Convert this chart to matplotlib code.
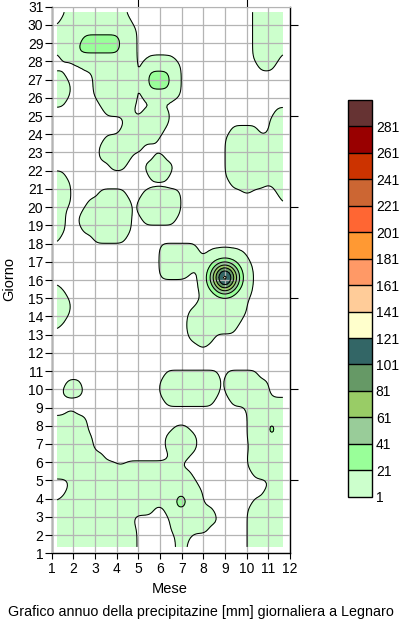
import numpy as np
import matplotlib
matplotlib.use('Agg')
import matplotlib.pyplot as plt

plt.rcParams['font.family'] = ['Liberation Sans', 'DejaVu Sans']

# ---------------- data ----------------
month_ticks = list(range(1, 13))
day_ticks = list(range(1, 32))
levels = [1, 21, 41, 61, 81, 101, 121, 141, 161, 181, 201, 221, 241, 261, 281, 301]
level_labels = [1, 21, 41, 61, 81, 101, 121, 141, 161, 181, 201, 221, 241, 261, 281]
level_colors = ['#ccffcc', '#99ff99', '#99cc99', '#99cc66', '#669966', '#336666',
                '#ffffcc', '#ffcc99', '#ff9966', '#ff9933', '#ff6633', '#cc6633',
                '#cc3300', '#990000', '#663333']

# gridded field nodes (month, day)
x_nodes = np.linspace(1.25, 11.67, 42)
y_nodes = np.linspace(1.35, 30.70, 60)

# precipitation class per node (mm)
code_values = {'.': 0.0, '-': 0.0, ',': 1.1, 'a': 2.0, 'b': 40.0, 'B': 60.0, 'C': 80.0}

# row index (0 = day 1.35 ... 59 = day 30.7) -> list of (code, first col, last col)
rain_segments = {
    59: [('a', 2, 12), ('a', 36, 41)],
    58: [('a', 1, 13), ('a', 36, 41)],
    57: [('a', 0, 14), ('a', 36, 41)],
    56: [('a', 0, 14), ('b', 5, 11), ('a', 36, 41)],
    55: [('a', 0, 14), ('b', 4, 11), ('a', 36, 41)],
    54: [('a', 1, 14), (',', 17, 21), ('a', 36, 40)],
    53: [('a', 5, 14), ('-', 15, 15), ('a', 16, 22), ('a', 37, 39)],
    52: [('a', 0, 1), ('a', 7, 14), ('-', 15, 15), ('a', 16, 22), ('b', 17, 20)],
    51: [('a', 0, 2), ('a', 7, 14), ('-', 15, 15), ('a', 16, 22), ('b', 17, 20)],
    50: [('a', 0, 2), ('a', 7, 14), ('-', 15, 15), ('a', 16, 22)],
    49: [('a', 0, 1), ('a', 8, 14)],
    48: [('a', 9, 13), ('a', 16, 20), ('a', 40, 41)],
    47: [('a', 13, 20), ('a', 39, 41)],
    46: [('a', 12, 19), ('a', 32, 36), ('a', 39, 41)],
    45: [('a', 9, 18), ('a', 31, 41)],
    44: [('a', 8, 15), ('a', 31, 41)],
    43: [('a', 8, 13), ('a', 18, 19), ('a', 31, 41)],
    42: [('a', 10, 12), ('a', 16, 21), ('a', 31, 41)],
    41: [('a', 0, 1), ('a', 17, 20), ('a', 31, 41)],
    40: [('a', 0, 2), ('a', 32, 41), (',', 38, 39)],
    39: [('a', 0, 2), ('a', 8, 12), ('a', 16, 22), (',', 34, 35), (',', 40, 40), ('a', 41, 41)],
    38: [('a', 0, 2), ('a', 6, 13), ('a', 15, 22), (',', 41, 41)],
    37: [('a', 0, 1), ('a', 5, 13), ('a', 15, 22)],
    36: [('a', 0, 1), ('a', 4, 13), ('a', 16, 21), ('a', 41, 41)],
    35: [('a', 0, 1), ('a', 5, 13)],
    34: [('a', 0, 0), ('a', 7, 12)],
    33: [('a', 19, 25)],
    32: [('a', 19, 26), (',', 28, 34)],
    31: [('a', 19, 34), (',', 35, 35)],
    30: [('a', 19, 23), (',', 24, 24), ('a', 27, 34), (',', 35, 35)],
    29: [(',', 0, 0), ('a', 27, 34), (',', 35, 35)],
    28: [('a', 0, 1), ('a', 27, 34), (',', 35, 35)],
    27: [('a', 0, 2), ('a', 26, 34)],
    26: [('a', 0, 2), (',', 24, 24), ('a', 25, 34)],
    25: [('a', 0, 1), ('a', 24, 33)],
    24: [(',', 0, 0), ('a', 24, 32)],
    23: [(',', 24, 24), ('a', 25, 28)],
    22: [(',', 26, 27)],
    19: [('a', 20, 29), ('a', 31, 36)],
    18: [('a', 2, 4), ('a', 19, 29), ('-', 30, 30), ('a', 31, 38)],
    17: [('a', 1, 4), (',', 5, 5), ('a', 19, 29), ('-', 30, 30), ('a', 31, 38)],
    16: [('a', 20, 28), ('a', 32, 41)],
    15: [(',', 2, 3), ('a', 35, 41)],
    14: [('a', 0, 5), ('a', 35, 41)],
    13: [('a', 0, 5), (',', 21, 21), ('a', 22, 23), (',', 24, 24), ('a', 35, 41), ('C', 39, 39)],
    12: [('a', 0, 6), ('a', 20, 25), ('a', 35, 41)],
    11: [('a', 0, 6), ('a', 20, 25), (',', 35, 35), ('a', 36, 41)],
    10: [('a', 0, 8), (',', 21, 21), ('a', 22, 23), (',', 24, 24), ('a', 35, 41)],
    9: [('a', 0, 10), (',', 11, 12), ('a', 13, 21), (',', 22, 22), ('a', 35, 41)],
    8: [('a', 0, 24), ('a', 36, 41)],
    7: [('a', 3, 25), (',', 39, 39), ('a', 40, 41)],
    6: [('a', 2, 26), ('a', 38, 41)],
    5: [(',', 0, 0), ('a', 1, 26), ('B', 22, 23), ('a', 36, 41)],
    4: [('a', 0, 17), ('a', 20, 28), ('a', 35, 41)],
    3: [('a', 0, 13), ('a', 21, 29), ('a', 35, 41)],
    2: [('a', 0, 14), ('a', 21, 27), ('a', 35, 41)],
    1: [('a', 0, 14), ('a', 22, 23), (',', 24, 24), ('a', 35, 41)],
    0: [('a', 0, 14), ('a', 22, 23), ('a', 35, 41)],
}

# heavy rain cell around 16 September (rows 28..31, cols 27..34), mm
peak_rows = [28, 29, 30, 31]
peak_cols = [27, 28, 29, 30, 31, 32, 33, 34]
peak_vals = [
    [2, 5, 22, 33, 32, 21, 5, 2],
    [13, 45, 84, 128, 126, 81, 43, 10],
    [17, 58, 104, 160, 158, 100, 55, 15],
    [2, 21, 46, 64, 63, 44, 20, 2],
]

# ---------------- field ----------------
Z = np.zeros((len(y_nodes), len(x_nodes)))
for row, segs in rain_segments.items():
    for code, c0, c1 in segs:
        Z[row, c0:c1 + 1] = code_values[code]
pv = np.array(peak_vals, dtype=float)
r0, r1 = peak_rows[0], peak_rows[-1] + 1
q0, q1 = peak_cols[0], peak_cols[-1] + 1
Z[r0:r1, q0:q1] = np.maximum(Z[r0:r1, q0:q1], pv)

up = 4
xf = np.linspace(x_nodes[0], x_nodes[-1], (len(x_nodes) - 1) * up + 1)
yf = np.linspace(y_nodes[0], y_nodes[-1], (len(y_nodes) - 1) * up + 1)
tmp = np.array([np.interp(xf, x_nodes, r) for r in Z])
F = np.array([np.interp(yf, y_nodes, c) for c in tmp.T]).T


def smooth(a, sigma):
    r = int(3 * sigma) + 1
    k = np.exp(-0.5 * (np.arange(-r, r + 1) / sigma) ** 2)
    k /= k.sum()
    p = np.pad(a, ((r, r), (0, 0)), mode='edge')
    a = np.apply_along_axis(lambda v: np.convolve(v, k, mode='valid'), 0, p)
    p = np.pad(a, ((0, 0), (r, r)), mode='edge')
    a = np.apply_along_axis(lambda v: np.convolve(v, k, mode='valid'), 1, p)
    return a


F = smooth(F, 2.6)

# ---------------- figure ----------------
W, H = 400, 622
fig = plt.figure(figsize=(W / 100, H / 100), dpi=100)
ax = fig.add_axes([51.7 / W, (H - 553.3) / H, (290 - 51.7) / W, (553.3 - 6.7) / H])

cs = ax.contourf(xf, yf, F, levels=levels, colors=level_colors, zorder=1)
ax.contour(xf, yf, F, levels=levels, colors='black', linewidths=0.75, zorder=3)

ax.set_xlim(1, 12)
ax.set_ylim(1, 31)
ax.set_xticks(month_ticks)
ax.set_yticks(day_ticks)
ax.grid(True, color='#b4b4b4', linewidth=0.9, zorder=2)
ax.set_axisbelow(False)
for sp in ['left', 'bottom', 'right']:
    ax.spines[sp].set_color('black')
    ax.spines[sp].set_linewidth(1.0)
ax.spines['top'].set_color('#b4b4b4')
ax.tick_params(axis='y', direction='out', length=5, width=0.8, pad=1.0,
               labelsize=10, colors='black')
ax.tick_params(axis='x', direction='out', length=4, width=0.8, pad=2.0,
               labelsize=10, colors='black')

sec_y = ax.secondary_yaxis('right')
sec_y.set_yticks([5, 10, 15, 20, 25, 30])
sec_y.set_yticklabels([])
sec_y.tick_params(direction='out', length=6, width=0.8)
sec_y.spines['right'].set_visible(False)
sec_x = ax.secondary_xaxis('top')
sec_x.set_xticks([5, 10])
sec_x.set_xticklabels([])
sec_x.tick_params(direction='out', length=6, width=0.8)
sec_x.spines['top'].set_visible(False)

# colour bar
cax = fig.add_axes([348.3 / W, (H - 496.7) / H, 24 / W, (496.7 - 100) / H])
cb = fig.colorbar(cs, cax=cax, ticks=level_labels, drawedges=True)
cb.ax.tick_params(length=0, labelsize=10, pad=2.5)
cb.ax.set_yticklabels([str(v) for v in level_labels])
cb.outline.set_linewidth(1.0)
cb.dividers.set_linewidth(1.0)
cb.dividers.set_color('black')

fig.text(9 / W, 1 - 279 / H, 'Giorno', rotation=90, ha='center', va='center', fontsize=10.5)
fig.text(170 / W, 1 - 589 / H, 'Mese', ha='center', va='center', fontsize=10.5)
fig.text(201 / W, 1 - 612 / H, 'Grafico annuo della precipitazine [mm] giornaliera a Legnaro',
         ha='center', va='center', fontsize=10.3)

fig.savefig('out.png', dpi=100)
